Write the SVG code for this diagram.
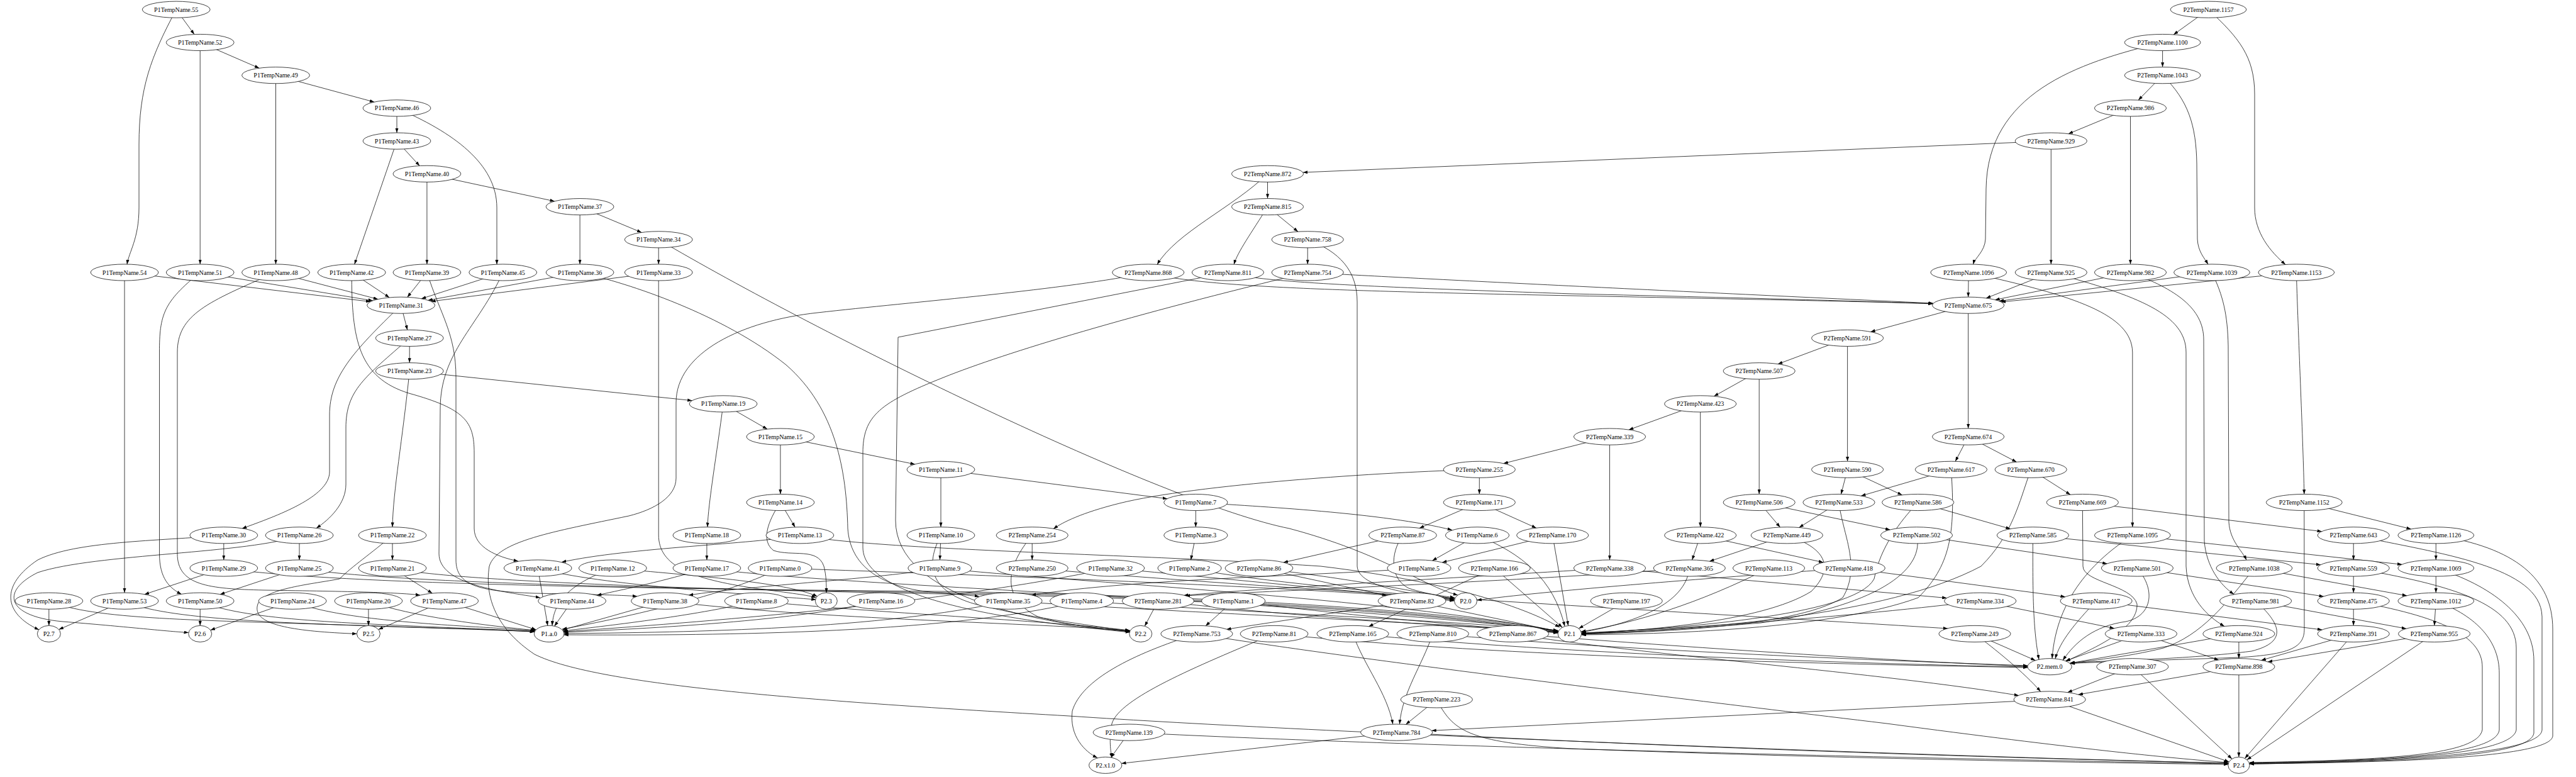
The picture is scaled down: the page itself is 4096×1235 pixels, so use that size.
<svg xmlns="http://www.w3.org/2000/svg" width="4096" height="1235" viewBox="0 0 4096 1235">
<defs>
<marker id="ah" viewBox="0 0 10 7" refX="10" refY="3.5" markerWidth="7.3" markerHeight="5.1" orient="auto" markerUnits="userSpaceOnUse"><path d="M0,0 L10,3.5 L0,7 z" fill="#000"/></marker>
<style>
.n ellipse{fill:#fff;stroke:#000;stroke-width:0.75}
.n text{font-family:"Liberation Serif","Times New Roman",serif;font-size:10.15px;text-anchor:middle;fill:#000}
</style>
</defs>
<rect width="4096" height="1235" fill="#fff"/>
<g id="connectors" fill="none" stroke="#000" stroke-width="0.75" marker-end="url(#ah)">
<path d="M280.2,15.2 L308.9,54.6"/>
<path d="M280.2,15.2 C240,90 221,140 221,230 L221,330 C221,380 205,400 202,420.2"/>
<path d="M318.2,67.5 L412.2,108.3"/>
<path d="M318.2,67.5 L318.2,419.9"/>
<path d="M438.5,119.7 L595.1,162.2"/>
<path d="M438.5,119.7 L438.5,419.9"/>
<path d="M631,171.9 L631,211"/>
<path d="M631,171.9 C720,210 790,260 790,330 L790,420.3"/>
<path d="M631,224.1 L667.2,263.6"/>
<path d="M631,224.1 L563.7,420"/>
<path d="M678.9,276.3 L881.8,319.9"/>
<path d="M678.9,276.3 L678.9,419.9"/>
<path d="M922.1,328.6 L1020.2,369.5"/>
<path d="M922.1,328.6 L922.1,419.9"/>
<path d="M1047.2,380.8 L1047.2,419.9"/>
<path d="M1047.2,380.8 C1300,530 1850,800 2050,840 C2200,880 2260,930 2318,946"/>
<path d="M198,433 L589.2,479.5"/>
<path d="M318.2,433 L592.9,477.9"/>
<path d="M438.5,433 L601,475.6"/>
<path d="M559.2,433 L619.2,472.9"/>
<path d="M678.9,433 L647.7,472.4"/>
<path d="M799.7,433 L670,474.8"/>
<path d="M922.1,433 L680.6,477.3"/>
<path d="M1047.2,433 L685.3,479.1"/>
<path d="M198,433 L198,942.1"/>
<path d="M318.2,433 C260,480 253.5,500 253.5,560 L253.5,880 C253.5,920 270,935 288.5,944.5"/>
<path d="M438.5,433 C330,480 282,500 282,560 L282,880 C282,930 330,936 420,938 C560,940 640,942 668,946"/>
<path d="M559.2,433 C559,540 570,600 650,625 C740,650 754,670 754,720 L754,840 C754,870 790,885 824,892"/>
<path d="M799.7,433 C760,520 700,560 700,650 L698,880 C698,930 800,940 859,950"/>
<path d="M678.9,433 C700,500 725,530 725,600 L725,890 C725,930 760,940 850,943 C950,945 990,946 1013,947.8"/>
<path d="M922.1,433 C1000,450 1150,500 1250,580 C1330,650 1346,750 1348,840 C1352,900 1400,930 1470,940 C1520,945 1545,946 1557,948.3"/>
<path d="M1047.2,433 L1047.2,850 C1047,900 1100,920 1200,935 C1260,943 1285,946 1297.5,950"/>
<path d="M637.6,485.2 L647.8,524.4"/>
<path d="M651.2,537.4 L651.2,576.6"/>
<path d="M651.2,589.7 L1100.5,636.7"/>
<path d="M1150,641.9 L1220,682.1"/>
<path d="M1240.9,694.1 L1454.8,737.9"/>
<path d="M1496,746.3 L1856,792.7"/>
<path d="M1901.3,798.5 L1901.3,837.7"/>
<path d="M1240.9,694.1 L1240.9,785.4"/>
<path d="M1150,641.9 C1140,720 1126,800 1125,837.8"/>
<path d="M1496,746.3 L1496,837.7"/>
<path d="M637.6,485.2 C560,560 524,600 524,660 L524,750 C524,790 440,820 385,840"/>
<path d="M651.2,537.4 C580,600 550,620 550,680 L550,770 C550,800 525,825 503,839.5"/>
<path d="M651.2,589.7 C640,700 625,780 624,837.7"/>
<path d="M355.8,850.8 L355.8,889.9"/>
<path d="M476,850.8 L476,889.9"/>
<path d="M624,850.8 L624,889.9"/>
<path d="M1123.9,850.8 L1123.9,889.9"/>
<path d="M1496,850.8 L1494.5,889.9"/>
<path d="M1901.3,850.8 L1893.5,890"/>
<path d="M1240.9,798.5 L1264.2,837.9"/>
<path d="M1901.3,798.5 C2000,805 2200,815 2309,842.5"/>
<path d="M2349,850.8 L2277.5,891.1"/>
<path d="M1240.9,798.5 C1220,830 1210,860 1230,875 C1260,885 1300,870 1310,900 C1314,915 1314,930 1314,942.1"/>
<path d="M1271.9,850.8 C1200,865 1000,870 893,893.5"/>
<path d="M1123.9,903 C1050,925 1000,935 949,946.2"/>
<path d="M1494.4,903 C1400,920 1200,930 1095,946"/>
<path d="M2256.5,903 C2100,915 1800,920 1640,946"/>
<path d="M355.8,903 L229.8,944.7"/>
<path d="M476,903 L350,944.7"/>
<path d="M624,903 L687.4,943"/>
<path d="M77.8,955.2 L77.8,994.3"/>
<path d="M198,955.2 L93.6,1000.6"/>
<path d="M355.8,850.8 C250,860 120,860 60,890 C0,930 5,975 62,1001"/>
<path d="M476,850.8 C400,880 150,880 60,910 C0,940 10,980 100,988 C200,996 260,1003 299.8,1005.5"/>
<path d="M624,850.8 C590,880 560,900 540,920 C500,928 420,935 410,960 C400,990 450,1003 567.4,1007.4"/>
<path d="M465.1,955.2 L334.7,1001.5"/>
<path d="M318.2,955.2 L318.2,994.3"/>
<path d="M585.9,955.2 L585.9,994.3"/>
<path d="M706.7,955.2 L601.7,1000.6"/>
<path d="M77.8,955.2 C150,985 300,985 600,995 C750,1000 820,1002 849.8,1004.5"/>
<path d="M198,955.2 C260,985 450,990 650,997 C780,1001 830,1003 850,1004"/>
<path d="M318.2,955.2 C380,985 550,990 700,997 C800,1001 835,1003 850.5,1003"/>
<path d="M465.1,955.2 C520,980 650,990 750,996 C820,1000 840,1002 851,1002"/>
<path d="M585.9,955.2 C650,980 780,995 851.5,1002"/>
<path d="M706.7,955.2 L852.5,1000.9"/>
<path d="M855.2,903 L870.9,994.4"/>
<path d="M974.3,903 C900,930 880,960 878,994.5"/>
<path d="M909.6,955.2 L881.6,995.2"/>
<path d="M1057.5,955.2 L894.2,1001.4"/>
<path d="M1202.8,955.2 C1100,980 960,995 895,1003"/>
<path d="M1400.8,955.2 C1250,990 1000,1000 896,1005"/>
<path d="M1603.2,955.2 C1400,1000 1100,1005 896.5,1007"/>
<path d="M1240.3,903 C1150,950 950,990 894,1000"/>
<path d="M1720.1,955.2 C1500,1010 1100,1010 896.5,1009"/>
<path d="M1765.8,903 C1500,960 1100,990 896,1004"/>
<path d="M974.3,903 C1100,915 1250,925 1299.5,948"/>
<path d="M855.2,903 C950,930 1200,945 1297.5,953"/>
<path d="M1496,850.8 C1470,900 1480,940 1550,960 C1650,985 1750,995 1796,1004"/>
<path d="M1202.8,955.2 C1400,975 1650,985 1796.5,1002"/>
<path d="M1057.5,955.2 C1300,985 1650,990 1797,1002.5"/>
<path d="M1841.4,955.2 L1820.2,995.2"/>
<path d="M2349,850.8 C2420,880 2470,920 2488,995.5"/>
<path d="M1720.1,955.2 C2000,975 2300,985 2478,1003"/>
<path d="M1603.2,955.2 C1900,975 2300,990 2477.5,1006"/>
<path d="M2586.2,955.2 L2510.3,999"/>
<path d="M2686.3,903 C2680,960 2600,990 2514.5,1005"/>
<path d="M2812.5,903 C2700,960 2600,990 2514,1004"/>
<path d="M2841.3,850.8 C2900,870 2920,900 2880,940 C2800,990 2600,1003 2514.5,1007"/>
<path d="M2924,798.5 C2930,850 2960,900 2930,950 C2850,1000 2600,1005 2514.6,1008"/>
<path d="M3102.4,746.3 C3110,850 3100,900 3050,950 C2900,1005 2600,1008 2514.6,1009"/>
<path d="M2079.2,380.8 C2130,400 2158,430 2158,480 L2158,900 C2160,935 2250,945 2312.6,952"/>
<path d="M1891.5,903 C2000,925 2200,940 2312.5,953"/>
<path d="M1240.3,903 C1600,915 2100,935 2312.6,954"/>
<path d="M1765.8,903 C1950,920 2150,940 2312.6,955"/>
<path d="M2940.3,903 C2700,920 2450,940 2348.5,954"/>
<path d="M355.8,903 C500,925 900,935 1500,940 C2100,950 2400,985 2477,1004"/>
<path d="M476,903 C600,925 1000,935 1500,942 C2100,952 2400,988 2477,1005"/>
<path d="M624,903 C700,920 1000,935 1500,944 C2100,954 2400,990 2477.3,1006"/>
<path d="M1123.9,903 C1300,930 2000,950 2477,1002"/>
<path d="M1271.9,850.8 C1400,875 1800,880 2100,900 C2350,930 2450,980 2480,997"/>
<path d="M1494.4,903 C1700,925 2200,950 2477.5,1003"/>
<path d="M3511.5,15.2 L3456.1,55"/>
<path d="M3511.5,15.2 C3560,60 3585,90 3585,150 L3585,330 C3585,370 3610,400 3634,420.5"/>
<path d="M3438.6,67.5 L3438.6,106.6"/>
<path d="M3438.6,67.5 C3300,100 3160,150 3158,300 L3157,380 C3156,400 3140,410 3137.5,420.1"/>
<path d="M3438.6,119.7 L3400,159.2"/>
<path d="M3438.6,119.7 C3480,160 3492,200 3493,260 L3494,380 C3495,400 3505,410 3511,420.1"/>
<path d="M3387.5,171.9 L3288.9,212.7"/>
<path d="M3387.5,171.9 L3387.5,419.9"/>
<path d="M3261.3,224.1 L2071.7,274"/>
<path d="M3261.3,224.1 L3261.3,419.9"/>
<path d="M2015.5,276.3 L2015.5,315.5"/>
<path d="M2015.5,276.3 C1960,330 1870,370 1840,420.4"/>
<path d="M2015.5,328.6 L2063.9,368.2"/>
<path d="M2015.5,328.6 C1990,370 1968,400 1962,420.3"/>
<path d="M2079.2,380.8 L2079.2,419.9"/>
<path d="M3130.2,433 L3129.6,472.1"/>
<path d="M3261.3,433 L3158.1,473.9"/>
<path d="M3387.5,433 L3172.4,476.5"/>
<path d="M3517,433 L3178.8,478.6"/>
<path d="M3651.3,433 L3181.9,480"/>
<path d="M1825.7,433 C1900,455 2100,462 2500,470 C2800,476 3000,480 3073.4,483"/>
<path d="M1952.4,433 C2000,448 2150,455 2500,467 C2800,474 3000,480 3073.5,482.5"/>
<path d="M2079.2,433 C2200,440 2600,460 3073.8,482"/>
<path d="M3130.2,433 C3300,470 3390,500 3390.8,560 L3390.8,837.7"/>
<path d="M3261.3,433 C3400,470 3476,500 3476,560 L3476,900 C3478,950 3510,980 3537,995.5"/>
<path d="M3387.5,433 C3460,460 3504,490 3504,540 L3505,860 C3508,900 3530,930 3552,944.5"/>
<path d="M3517,433 C3535,470 3542,500 3543,550 L3544,830 C3546,860 3565,875 3572,890.1"/>
<path d="M3651.3,433 C3655,550 3662,700 3663.8,785.4"/>
<path d="M1825.7,433 C1700,460 1450,480 1300,497 C1180,510 1075,560 1075,640 L1075,760 C1075,790 1040,810 1000,820 C880,845 790,860 778,900 C770,950 790,1000 850,1040 C950,1090 1300,1115 1700,1138 C2100,1165 3000,1200 3543,1213"/>
<path d="M1952.4,433 L1428,536 L1424,827 C1424,950 1650,990 1797,1004"/>
<path d="M2079.2,433 C1800,500 1600,560 1500,600 C1400,640 1372,660 1372,720 L1372,870 C1372,960 1650,990 1797,1005"/>
<path d="M3129.6,485.2 L3129.6,681"/>
<path d="M3129.6,485.2 L2974.3,527.4"/>
<path d="M2937.6,537.4 L2827.1,578.6"/>
<path d="M2937.6,537.4 L2937.6,733.2"/>
<path d="M2797.2,589.7 L2725.3,629.8"/>
<path d="M2797.2,589.7 L2797.2,785.4"/>
<path d="M2703.7,641.9 L2590,683.1"/>
<path d="M2703.7,641.9 L2703.7,837.7"/>
<path d="M2559.5,694.1 L2390.7,736.6"/>
<path d="M2559.5,694.1 L2559.5,889.9"/>
<path d="M2352.3,746.3 L2352.3,785.4"/>
<path d="M2352.3,746.3 C2200,750 1900,770 1780,800 C1720,815 1690,830 1675,840.5"/>
<path d="M2352.3,798.5 L2257,839.4"/>
<path d="M2352.3,798.5 L2442.8,839.2"/>
<path d="M3129.6,694.1 L3109.1,733.3"/>
<path d="M3129.6,694.1 L3206.4,734.3"/>
<path d="M2937.6,746.3 L2927.4,785.5"/>
<path d="M2937.6,746.3 L3024.5,786.8"/>
<path d="M3102.4,746.3 L2959.2,788.2"/>
<path d="M3229.2,746.3 L3292,786.2"/>
<path d="M2797.2,798.5 L2830.5,838"/>
<path d="M2797.2,798.5 L3005.3,842"/>
<path d="M2924,798.5 L2860.7,838.5"/>
<path d="M3049.7,798.5 L3196.7,840.6"/>
<path d="M3311.3,798.5 L3691.8,844.7"/>
<path d="M3663.8,798.5 L3833.7,840.9"/>
<path d="M3311.3,798.5 L3312,900 C3312,925 3390,930 3398,960 C3400,1000 3330,1030 3285,1051"/>
<path d="M3663.8,798.5 L3664,1000 C3664,1030 3640,1040 3560,1045 C3420,1050 3330,1052 3291.5,1054.8"/>
<path d="M3390.8,850.8 C3330,890 3270,950 3263,1046.7"/>
<path d="M3390.8,850.8 L3819.3,897.2"/>
<path d="M3232.4,850.8 C3232,950 3233,1000 3242,1048.3"/>
<path d="M3232.4,850.8 L3690.1,897.7"/>
<path d="M3742.2,850.8 L3742.2,889.9"/>
<path d="M3873.3,850.8 L3873.3,889.9"/>
<path d="M3742.2,850.8 C3880,880 4040,900 4042,980 L4042,1160 C4040,1200 3800,1210 3577,1214.5"/>
<path d="M3873.3,850.8 C4000,870 4059,920 4059,1000 L4059,1170 C4055,1205 3800,1212 3577,1214"/>
<path d="M3742.2,903 C3900,930 4001,960 4001,1030 L4001,1160 C3995,1200 3800,1210 3577,1213"/>
<path d="M3873.3,903 C3960,930 4029,980 4029,1050 L4029,1165 C4025,1205 3800,1211 3577,1213.5"/>
<path d="M3742.2,955.2 C3880,980 3947,1010 3947,1060 L3947,1160 C3940,1200 3800,1208 3577,1212"/>
<path d="M3873.3,955.2 C3940,980 3974,1020 3974,1070 L3974,1160 C3970,1200 3800,1209 3577,1212.5"/>
<path d="M3398.4,903 L3694.7,948"/>
<path d="M3398.4,903 C3430,940 3420,980 3380,988 C3330,995 3300,1020 3280,1049.5"/>
<path d="M3584.4,903 C3540,960 3500,1010 3440,1030 C3380,1045 3320,1050 3292,1054.5"/>
<path d="M3584.4,903 L3827,946.8"/>
<path d="M3742.2,903 L3742.2,942.1"/>
<path d="M3873.3,903 L3873.3,942.1"/>
<path d="M3148.7,955.2 L3361.8,998.7"/>
<path d="M3333.1,955.2 L3692.3,1001"/>
<path d="M3333.1,955.2 C3300,990 3275,1020 3268,1047.1"/>
<path d="M3586.6,955.2 L3826.1,999.2"/>
<path d="M3586.6,955.2 C3625,990 3640,1020 3580,1035 C3480,1048 3350,1050 3292,1053.5"/>
<path d="M3742.2,955.2 L3742.2,994.3"/>
<path d="M3873.3,955.2 L3870.8,994.3"/>
<path d="M3140,1007.4 L3236.4,1049.7"/>
<path d="M3140,1007.4 C3170,1030 3220,1070 3244.7,1099.3"/>
<path d="M3404.4,1007.4 L3284.3,1050.6"/>
<path d="M3404.4,1007.4 L3527.8,1048.9"/>
<path d="M3559.9,1007.4 L3290.9,1054.2"/>
<path d="M3559.9,1007.4 L3559.9,1046.6"/>
<path d="M3742.2,1007.4 L3595.5,1049.5"/>
<path d="M3870.6,1007.4 L3605.9,1052"/>
<path d="M3742.2,1007.4 L3569.4,1205.4"/>
<path d="M3870.6,1007.4 L3572.7,1207.7"/>
<path d="M3390.8,1059.7 L3287.6,1100.6"/>
<path d="M3390.8,1059.7 L3549,1206.2"/>
<path d="M3559.9,1059.7 L3304.6,1104"/>
<path d="M3559.9,1059.7 L3559.9,1203.2"/>
<path d="M3259.1,1111.9 L3544.3,1210.9"/>
<path d="M3259.1,1111.9 L2276.4,1161.3"/>
<path d="M2405.6,1007.4 C2600,1040 3000,1070 3210,1105.5"/>
<path d="M2405.6,1007.4 C2700,1030 3000,1050 3224,1059"/>
<path d="M2278.3,1007.4 C2260,1060 2230,1100 2225.4,1151.1"/>
<path d="M2278.3,1007.4 C2600,1035 3000,1050 3224,1058"/>
<path d="M2151,1007.4 C2170,1060 2205,1100 2214.8,1151.1"/>
<path d="M2151,1007.4 C2500,1040 2950,1055 3224,1060"/>
<path d="M2026,1007.4 C2400,1045 2900,1055 3224,1061"/>
<path d="M2026,1007.4 C1900,1060 1780,1110 1768,1150 C1763,1175 1766,1195 1768,1204.4"/>
<path d="M1902.9,1007.4 C1800,1040 1720,1080 1705,1130 C1700,1170 1725,1195 1745,1204.5"/>
<path d="M1902.9,1007.4 C2100,1040 2500,1090 3000,1150 C3300,1190 3450,1205 3543,1212"/>
<path d="M1795.2,1164.1 L1766.5,1204"/>
<path d="M1795.2,1164.1 C2200,1185 3000,1205 3543,1214"/>
<path d="M2220.6,1164.1 L1783.2,1213.4"/>
<path d="M2220.6,1164.1 C2700,1190 3200,1205 3543,1213"/>
<path d="M2284.3,1111.9 L2235.3,1151.5"/>
<path d="M2284.3,1111.9 C2310,1160 2330,1180 2500,1190 C2900,1205 3300,1212 3543,1215"/>
<path d="M2468.7,850.8 L2293.1,894"/>
<path d="M2468.7,850.8 L2493.6,994.4"/>
<path d="M2230.4,850.8 L2040.7,894"/>
<path d="M2230.4,850.8 C2210,880 2210,920 2240,935 C2270,945 2300,948 2313,950"/>
<path d="M2001.9,903 L2204.8,946.5"/>
<path d="M2001.9,903 C2150,920 2250,940 2312.5,952"/>
<path d="M2245.1,955.2 L1950.4,1000.2"/>
<path d="M2245.1,955.2 L2477.9,1003.7"/>
<path d="M1961.1,955.2 L1917,994.8"/>
<path d="M1961.1,955.2 C2200,985 2400,1000 2477.5,1005"/>
<path d="M1641.2,850.8 L1641.2,889.9"/>
<path d="M1641.2,850.8 C1600,900 1590,950 1650,980 C1700,995 1760,1000 1796,1003.5"/>
<path d="M1641.2,903 C2000,935 2800,980 3097,999"/>
<path d="M2559.5,903 L3095.5,950.5"/>
<path d="M2559.5,903 C2300,920 2000,935 1882,946.5"/>
<path d="M2686.3,903 C2400,925 2000,940 1885,947"/>
<path d="M1841.4,955.2 C2100,985 2400,1000 2477.5,1004.5"/>
<path d="M2703.7,850.8 L2690.6,890"/>
<path d="M2703.7,850.8 L2899.2,893.9"/>
<path d="M2841.3,850.8 L2718.2,892.2"/>
<path d="M2940.3,903 L3283.7,948.6"/>
<path d="M3047.5,850.8 L3350.5,895.9"/>
<path d="M2376.2,903 L2176.3,995.7"/>
<path d="M2376.2,903 L2484.2,997.2"/>
<path d="M3148.7,955.2 C2900,985 2650,1000 2514.5,1006"/>
<path d="M3047.5,850.8 C3060,900 3000,960 2800,990 C2650,1003 2560,1005 2514.6,1007.5"/>
<path d="M3049.7,798.5 C3020,830 2990,870 2980,920 C2950,980 2650,1000 2514.5,1006.5"/>
<path d="M3229.2,746.3 C3210,800 3200,850 3150,900 C3000,980 2700,1000 2514.6,1008"/>
</g>
<g id="nodes" class="n">
<g id="n-p55"><ellipse cx="280.2" cy="15.2" rx="53.9" ry="13.06"/><text x="280.2" y="18.7">P1TempName.55</text></g>
<g id="n-p52"><ellipse cx="318.2" cy="67.5" rx="53.9" ry="13.06"/><text x="318.2" y="71">P1TempName.52</text></g>
<g id="n-p49"><ellipse cx="438.5" cy="119.7" rx="53.9" ry="13.06"/><text x="438.5" y="123.2">P1TempName.49</text></g>
<g id="n-p46"><ellipse cx="631" cy="171.9" rx="53.9" ry="13.06"/><text x="631" y="175.4">P1TempName.46</text></g>
<g id="n-p43"><ellipse cx="631" cy="224.1" rx="53.9" ry="13.06"/><text x="631" y="227.6">P1TempName.43</text></g>
<g id="n-p40"><ellipse cx="678.9" cy="276.3" rx="53.9" ry="13.06"/><text x="678.9" y="279.8">P1TempName.40</text></g>
<g id="n-p37"><ellipse cx="922.1" cy="328.6" rx="53.9" ry="13.06"/><text x="922.1" y="332.1">P1TempName.37</text></g>
<g id="n-p34"><ellipse cx="1047.2" cy="380.8" rx="53.9" ry="13.06"/><text x="1047.2" y="384.3">P1TempName.34</text></g>
<g id="n-p54"><ellipse cx="198" cy="433" rx="53.9" ry="13.06"/><text x="198" y="436.5">P1TempName.54</text></g>
<g id="n-p51"><ellipse cx="318.2" cy="433" rx="53.9" ry="13.06"/><text x="318.2" y="436.5">P1TempName.51</text></g>
<g id="n-p48"><ellipse cx="438.5" cy="433" rx="53.9" ry="13.06"/><text x="438.5" y="436.5">P1TempName.48</text></g>
<g id="n-p42"><ellipse cx="559.2" cy="433" rx="53.9" ry="13.06"/><text x="559.2" y="436.5">P1TempName.42</text></g>
<g id="n-p39"><ellipse cx="678.9" cy="433" rx="53.9" ry="13.06"/><text x="678.9" y="436.5">P1TempName.39</text></g>
<g id="n-p45"><ellipse cx="799.7" cy="433" rx="53.9" ry="13.06"/><text x="799.7" y="436.5">P1TempName.45</text></g>
<g id="n-p36"><ellipse cx="922.1" cy="433" rx="53.9" ry="13.06"/><text x="922.1" y="436.5">P1TempName.36</text></g>
<g id="n-p33"><ellipse cx="1047.2" cy="433" rx="53.9" ry="13.06"/><text x="1047.2" y="436.5">P1TempName.33</text></g>
<g id="n-p31"><ellipse cx="637.6" cy="485.2" rx="53.9" ry="13.06"/><text x="637.6" y="488.7">P1TempName.31</text></g>
<g id="n-p27"><ellipse cx="651.2" cy="537.4" rx="53.9" ry="13.06"/><text x="651.2" y="540.9">P1TempName.27</text></g>
<g id="n-p23"><ellipse cx="651.2" cy="589.7" rx="53.9" ry="13.06"/><text x="651.2" y="593.2">P1TempName.23</text></g>
<g id="n-p19"><ellipse cx="1150" cy="641.9" rx="53.9" ry="13.06"/><text x="1150" y="645.4">P1TempName.19</text></g>
<g id="n-p15"><ellipse cx="1240.9" cy="694.1" rx="53.9" ry="13.06"/><text x="1240.9" y="697.6">P1TempName.15</text></g>
<g id="n-p11"><ellipse cx="1496" cy="746.3" rx="53.9" ry="13.06"/><text x="1496" y="749.8">P1TempName.11</text></g>
<g id="n-p14"><ellipse cx="1240.9" cy="798.5" rx="53.9" ry="13.06"/><text x="1240.9" y="802">P1TempName.14</text></g>
<g id="n-p7"><ellipse cx="1901.3" cy="798.5" rx="50.6" ry="13.06"/><text x="1901.3" y="802">P1TempName.7</text></g>
<g id="n-p30"><ellipse cx="355.8" cy="850.8" rx="53.9" ry="13.06"/><text x="355.8" y="854.3">P1TempName.30</text></g>
<g id="n-p26"><ellipse cx="476" cy="850.8" rx="53.9" ry="13.06"/><text x="476" y="854.3">P1TempName.26</text></g>
<g id="n-p22"><ellipse cx="624" cy="850.8" rx="53.9" ry="13.06"/><text x="624" y="854.3">P1TempName.22</text></g>
<g id="n-p18"><ellipse cx="1123.9" cy="850.8" rx="53.9" ry="13.06"/><text x="1123.9" y="854.3">P1TempName.18</text></g>
<g id="n-p13"><ellipse cx="1271.9" cy="850.8" rx="53.9" ry="13.06"/><text x="1271.9" y="854.3">P1TempName.13</text></g>
<g id="n-p10"><ellipse cx="1496" cy="850.8" rx="53.9" ry="13.06"/><text x="1496" y="854.3">P1TempName.10</text></g>
<g id="n-p3"><ellipse cx="1901.3" cy="850.8" rx="50.6" ry="13.06"/><text x="1901.3" y="854.3">P1TempName.3</text></g>
<g id="n-p6"><ellipse cx="2349" cy="850.8" rx="50.6" ry="13.06"/><text x="2349" y="854.3">P1TempName.6</text></g>
<g id="n-p29"><ellipse cx="355.8" cy="903" rx="53.9" ry="13.06"/><text x="355.8" y="906.5">P1TempName.29</text></g>
<g id="n-p25"><ellipse cx="476" cy="903" rx="53.9" ry="13.06"/><text x="476" y="906.5">P1TempName.25</text></g>
<g id="n-p21"><ellipse cx="624" cy="903" rx="53.9" ry="13.06"/><text x="624" y="906.5">P1TempName.21</text></g>
<g id="n-p41"><ellipse cx="855.2" cy="903" rx="53.9" ry="13.06"/><text x="855.2" y="906.5">P1TempName.41</text></g>
<g id="n-p12"><ellipse cx="974.3" cy="903" rx="53.9" ry="13.06"/><text x="974.3" y="906.5">P1TempName.12</text></g>
<g id="n-p17"><ellipse cx="1123.9" cy="903" rx="53.9" ry="13.06"/><text x="1123.9" y="906.5">P1TempName.17</text></g>
<g id="n-p0"><ellipse cx="1240.3" cy="903" rx="50.6" ry="13.06"/><text x="1240.3" y="906.5">P1TempName.0</text></g>
<g id="n-p9"><ellipse cx="1494.4" cy="903" rx="50.6" ry="13.06"/><text x="1494.4" y="906.5">P1TempName.9</text></g>
<g id="n-p32"><ellipse cx="1765.8" cy="903" rx="53.9" ry="13.06"/><text x="1765.8" y="906.5">P1TempName.32</text></g>
<g id="n-p2"><ellipse cx="1891.5" cy="903" rx="50.6" ry="13.06"/><text x="1891.5" y="906.5">P1TempName.2</text></g>
<g id="n-p5"><ellipse cx="2256.5" cy="903" rx="50.6" ry="13.06"/><text x="2256.5" y="906.5">P1TempName.5</text></g>
<g id="n-p28"><ellipse cx="77.8" cy="955.2" rx="53.9" ry="13.06"/><text x="77.8" y="958.7">P1TempName.28</text></g>
<g id="n-p53"><ellipse cx="198" cy="955.2" rx="53.9" ry="13.06"/><text x="198" y="958.7">P1TempName.53</text></g>
<g id="n-p50"><ellipse cx="318.2" cy="955.2" rx="53.9" ry="13.06"/><text x="318.2" y="958.7">P1TempName.50</text></g>
<g id="n-p24"><ellipse cx="465.1" cy="955.2" rx="53.9" ry="13.06"/><text x="465.1" y="958.7">P1TempName.24</text></g>
<g id="n-p20"><ellipse cx="585.9" cy="955.2" rx="53.9" ry="13.06"/><text x="585.9" y="958.7">P1TempName.20</text></g>
<g id="n-p47"><ellipse cx="706.7" cy="955.2" rx="53.9" ry="13.06"/><text x="706.7" y="958.7">P1TempName.47</text></g>
<g id="n-p44"><ellipse cx="909.6" cy="955.2" rx="53.9" ry="13.06"/><text x="909.6" y="958.7">P1TempName.44</text></g>
<g id="n-p38"><ellipse cx="1057.5" cy="955.2" rx="53.9" ry="13.06"/><text x="1057.5" y="958.7">P1TempName.38</text></g>
<g id="n-p8"><ellipse cx="1202.8" cy="955.2" rx="50.6" ry="13.06"/><text x="1202.8" y="958.7">P1TempName.8</text></g>
<g id="n-p16"><ellipse cx="1400.8" cy="955.2" rx="53.9" ry="13.06"/><text x="1400.8" y="958.7">P1TempName.16</text></g>
<g id="n-p35"><ellipse cx="1603.2" cy="955.2" rx="53.9" ry="13.06"/><text x="1603.2" y="958.7">P1TempName.35</text></g>
<g id="n-p4"><ellipse cx="1720.1" cy="955.2" rx="50.6" ry="13.06"/><text x="1720.1" y="958.7">P1TempName.4</text></g>
<g id="n-p1"><ellipse cx="1961.1" cy="955.2" rx="50.6" ry="13.06"/><text x="1961.1" y="958.7">P1TempName.1</text></g>
<g id="n-o27"><ellipse cx="77.8" cy="1007.4" rx="18.5" ry="13.06"/><text x="77.8" y="1010.9">P2.7</text></g>
<g id="n-o26"><ellipse cx="318.2" cy="1007.4" rx="18.5" ry="13.06"/><text x="318.2" y="1010.9">P2.6</text></g>
<g id="n-o25"><ellipse cx="585.9" cy="1007.4" rx="18.5" ry="13.06"/><text x="585.9" y="1010.9">P2.5</text></g>
<g id="n-oa"><ellipse cx="873.1" cy="1007.4" rx="23.7" ry="13.06"/><text x="873.1" y="1010.9">P1.a.0</text></g>
<g id="n-o23"><ellipse cx="1313.8" cy="955.2" rx="17.5" ry="13.06"/><text x="1313.8" y="958.7">P2.3</text></g>
<g id="n-o22"><ellipse cx="1813.7" cy="1007.4" rx="18" ry="13.06"/><text x="1813.7" y="1010.9">P2.2</text></g>
<g id="n-o20"><ellipse cx="2330.5" cy="955.2" rx="18" ry="13.06"/><text x="2330.5" y="958.7">P2.0</text></g>
<g id="n-o21"><ellipse cx="2495.9" cy="1007.4" rx="18.8" ry="13.06"/><text x="2495.9" y="1010.9">P2.1</text></g>
<g id="n-om"><ellipse cx="3259.1" cy="1059.7" rx="35.1" ry="13.06"/><text x="3259.1" y="1063.2">P2.mem.0</text></g>
<g id="n-ox"><ellipse cx="1757.7" cy="1216.3" rx="26.1" ry="13.06"/><text x="1757.7" y="1219.8">P2.x1.0</text></g>
<g id="n-o24"><ellipse cx="3559.9" cy="1216.3" rx="17.1" ry="13.06"/><text x="3559.9" y="1219.8">P2.4</text></g>
<g id="n-q1157"><ellipse cx="3511.5" cy="15.2" rx="60.4" ry="13.06"/><text x="3511.5" y="18.7">P2TempName.1157</text></g>
<g id="n-q1100"><ellipse cx="3438.6" cy="67.5" rx="60.4" ry="13.06"/><text x="3438.6" y="71">P2TempName.1100</text></g>
<g id="n-q1043"><ellipse cx="3438.6" cy="119.7" rx="60.4" ry="13.06"/><text x="3438.6" y="123.2">P2TempName.1043</text></g>
<g id="n-q986"><ellipse cx="3387.5" cy="171.9" rx="57.1" ry="13.06"/><text x="3387.5" y="175.4">P2TempName.986</text></g>
<g id="n-q929"><ellipse cx="3261.3" cy="224.1" rx="57.1" ry="13.06"/><text x="3261.3" y="227.6">P2TempName.929</text></g>
<g id="n-q872"><ellipse cx="2015.5" cy="276.3" rx="57.1" ry="13.06"/><text x="2015.5" y="279.8">P2TempName.872</text></g>
<g id="n-q815"><ellipse cx="2015.5" cy="328.6" rx="57.1" ry="13.06"/><text x="2015.5" y="332.1">P2TempName.815</text></g>
<g id="n-q758"><ellipse cx="2079.2" cy="380.8" rx="57.1" ry="13.06"/><text x="2079.2" y="384.3">P2TempName.758</text></g>
<g id="n-q868"><ellipse cx="1825.7" cy="433" rx="57.1" ry="13.06"/><text x="1825.7" y="436.5">P2TempName.868</text></g>
<g id="n-q811"><ellipse cx="1952.4" cy="433" rx="57.1" ry="13.06"/><text x="1952.4" y="436.5">P2TempName.811</text></g>
<g id="n-q754"><ellipse cx="2079.2" cy="433" rx="57.1" ry="13.06"/><text x="2079.2" y="436.5">P2TempName.754</text></g>
<g id="n-q1096"><ellipse cx="3130.2" cy="433" rx="60.4" ry="13.06"/><text x="3130.2" y="436.5">P2TempName.1096</text></g>
<g id="n-q925"><ellipse cx="3261.3" cy="433" rx="57.1" ry="13.06"/><text x="3261.3" y="436.5">P2TempName.925</text></g>
<g id="n-q982"><ellipse cx="3387.5" cy="433" rx="57.1" ry="13.06"/><text x="3387.5" y="436.5">P2TempName.982</text></g>
<g id="n-q1039"><ellipse cx="3517" cy="433" rx="60.4" ry="13.06"/><text x="3517" y="436.5">P2TempName.1039</text></g>
<g id="n-q1153"><ellipse cx="3651.3" cy="433" rx="60.4" ry="13.06"/><text x="3651.3" y="436.5">P2TempName.1153</text></g>
<g id="n-q675"><ellipse cx="3129.6" cy="485.2" rx="57.1" ry="13.06"/><text x="3129.6" y="488.7">P2TempName.675</text></g>
<g id="n-q591"><ellipse cx="2937.6" cy="537.4" rx="57.1" ry="13.06"/><text x="2937.6" y="540.9">P2TempName.591</text></g>
<g id="n-q507"><ellipse cx="2797.2" cy="589.7" rx="57.1" ry="13.06"/><text x="2797.2" y="593.2">P2TempName.507</text></g>
<g id="n-q423"><ellipse cx="2703.7" cy="641.9" rx="57.1" ry="13.06"/><text x="2703.7" y="645.4">P2TempName.423</text></g>
<g id="n-q339"><ellipse cx="2559.5" cy="694.1" rx="57.1" ry="13.06"/><text x="2559.5" y="697.6">P2TempName.339</text></g>
<g id="n-q674"><ellipse cx="3129.6" cy="694.1" rx="57.1" ry="13.06"/><text x="3129.6" y="697.6">P2TempName.674</text></g>
<g id="n-q255"><ellipse cx="2352.3" cy="746.3" rx="57.1" ry="13.06"/><text x="2352.3" y="749.8">P2TempName.255</text></g>
<g id="n-q590"><ellipse cx="2937.6" cy="746.3" rx="57.1" ry="13.06"/><text x="2937.6" y="749.8">P2TempName.590</text></g>
<g id="n-q617"><ellipse cx="3102.4" cy="746.3" rx="57.1" ry="13.06"/><text x="3102.4" y="749.8">P2TempName.617</text></g>
<g id="n-q670"><ellipse cx="3229.2" cy="746.3" rx="57.1" ry="13.06"/><text x="3229.2" y="749.8">P2TempName.670</text></g>
<g id="n-q171"><ellipse cx="2352.3" cy="798.5" rx="57.1" ry="13.06"/><text x="2352.3" y="802">P2TempName.171</text></g>
<g id="n-q506"><ellipse cx="2797.2" cy="798.5" rx="57.1" ry="13.06"/><text x="2797.2" y="802">P2TempName.506</text></g>
<g id="n-q533"><ellipse cx="2924" cy="798.5" rx="57.1" ry="13.06"/><text x="2924" y="802">P2TempName.533</text></g>
<g id="n-q586"><ellipse cx="3049.7" cy="798.5" rx="57.1" ry="13.06"/><text x="3049.7" y="802">P2TempName.586</text></g>
<g id="n-q669"><ellipse cx="3311.3" cy="798.5" rx="57.1" ry="13.06"/><text x="3311.3" y="802">P2TempName.669</text></g>
<g id="n-q1152"><ellipse cx="3663.8" cy="798.5" rx="60.4" ry="13.06"/><text x="3663.8" y="802">P2TempName.1152</text></g>
<g id="n-q254"><ellipse cx="1641.2" cy="850.8" rx="57.1" ry="13.06"/><text x="1641.2" y="854.3">P2TempName.254</text></g>
<g id="n-q87"><ellipse cx="2230.4" cy="850.8" rx="53.9" ry="13.06"/><text x="2230.4" y="854.3">P2TempName.87</text></g>
<g id="n-q170"><ellipse cx="2468.7" cy="850.8" rx="57.1" ry="13.06"/><text x="2468.7" y="854.3">P2TempName.170</text></g>
<g id="n-q422"><ellipse cx="2703.7" cy="850.8" rx="57.1" ry="13.06"/><text x="2703.7" y="854.3">P2TempName.422</text></g>
<g id="n-q449"><ellipse cx="2841.3" cy="850.8" rx="57.1" ry="13.06"/><text x="2841.3" y="854.3">P2TempName.449</text></g>
<g id="n-q502"><ellipse cx="3047.5" cy="850.8" rx="57.1" ry="13.06"/><text x="3047.5" y="854.3">P2TempName.502</text></g>
<g id="n-q585"><ellipse cx="3232.4" cy="850.8" rx="57.1" ry="13.06"/><text x="3232.4" y="854.3">P2TempName.585</text></g>
<g id="n-q1095"><ellipse cx="3390.8" cy="850.8" rx="60.4" ry="13.06"/><text x="3390.8" y="854.3">P2TempName.1095</text></g>
<g id="n-q643"><ellipse cx="3742.2" cy="850.8" rx="57.1" ry="13.06"/><text x="3742.2" y="854.3">P2TempName.643</text></g>
<g id="n-q1126"><ellipse cx="3873.3" cy="850.8" rx="60.4" ry="13.06"/><text x="3873.3" y="854.3">P2TempName.1126</text></g>
<g id="n-q250"><ellipse cx="1641.2" cy="903" rx="57.1" ry="13.06"/><text x="1641.2" y="906.5">P2TempName.250</text></g>
<g id="n-q86"><ellipse cx="2001.9" cy="903" rx="53.9" ry="13.06"/><text x="2001.9" y="906.5">P2TempName.86</text></g>
<g id="n-q166"><ellipse cx="2376.2" cy="903" rx="57.1" ry="13.06"/><text x="2376.2" y="906.5">P2TempName.166</text></g>
<g id="n-q338"><ellipse cx="2559.5" cy="903" rx="57.1" ry="13.06"/><text x="2559.5" y="906.5">P2TempName.338</text></g>
<g id="n-q365"><ellipse cx="2686.3" cy="903" rx="57.1" ry="13.06"/><text x="2686.3" y="906.5">P2TempName.365</text></g>
<g id="n-q113"><ellipse cx="2812.5" cy="903" rx="57.1" ry="13.06"/><text x="2812.5" y="906.5">P2TempName.113</text></g>
<g id="n-q418"><ellipse cx="2940.3" cy="903" rx="57.1" ry="13.06"/><text x="2940.3" y="906.5">P2TempName.418</text></g>
<g id="n-q501"><ellipse cx="3398.4" cy="903" rx="57.1" ry="13.06"/><text x="3398.4" y="906.5">P2TempName.501</text></g>
<g id="n-q1038"><ellipse cx="3584.4" cy="903" rx="60.4" ry="13.06"/><text x="3584.4" y="906.5">P2TempName.1038</text></g>
<g id="n-q559"><ellipse cx="3742.2" cy="903" rx="57.1" ry="13.06"/><text x="3742.2" y="906.5">P2TempName.559</text></g>
<g id="n-q1069"><ellipse cx="3873.3" cy="903" rx="60.4" ry="13.06"/><text x="3873.3" y="906.5">P2TempName.1069</text></g>
<g id="n-q281"><ellipse cx="1841.4" cy="955.2" rx="57.1" ry="13.06"/><text x="1841.4" y="958.7">P2TempName.281</text></g>
<g id="n-q82"><ellipse cx="2245.1" cy="955.2" rx="53.9" ry="13.06"/><text x="2245.1" y="958.7">P2TempName.82</text></g>
<g id="n-q197"><ellipse cx="2586.2" cy="955.2" rx="57.1" ry="13.06"/><text x="2586.2" y="958.7">P2TempName.197</text></g>
<g id="n-q334"><ellipse cx="3148.7" cy="955.2" rx="57.1" ry="13.06"/><text x="3148.7" y="958.7">P2TempName.334</text></g>
<g id="n-q417"><ellipse cx="3333.1" cy="955.2" rx="57.1" ry="13.06"/><text x="3333.1" y="958.7">P2TempName.417</text></g>
<g id="n-q981"><ellipse cx="3586.6" cy="955.2" rx="57.1" ry="13.06"/><text x="3586.6" y="958.7">P2TempName.981</text></g>
<g id="n-q475"><ellipse cx="3742.2" cy="955.2" rx="57.1" ry="13.06"/><text x="3742.2" y="958.7">P2TempName.475</text></g>
<g id="n-q1012"><ellipse cx="3873.3" cy="955.2" rx="60.4" ry="13.06"/><text x="3873.3" y="958.7">P2TempName.1012</text></g>
<g id="n-q753"><ellipse cx="1902.9" cy="1007.4" rx="57.1" ry="13.06"/><text x="1902.9" y="1010.9">P2TempName.753</text></g>
<g id="n-q81"><ellipse cx="2026" cy="1007.4" rx="53.9" ry="13.06"/><text x="2026" y="1010.9">P2TempName.81</text></g>
<g id="n-q165"><ellipse cx="2151" cy="1007.4" rx="57.1" ry="13.06"/><text x="2151" y="1010.9">P2TempName.165</text></g>
<g id="n-q810"><ellipse cx="2278.3" cy="1007.4" rx="57.1" ry="13.06"/><text x="2278.3" y="1010.9">P2TempName.810</text></g>
<g id="n-q867"><ellipse cx="2405.6" cy="1007.4" rx="57.1" ry="13.06"/><text x="2405.6" y="1010.9">P2TempName.867</text></g>
<g id="n-q249"><ellipse cx="3140" cy="1007.4" rx="57.1" ry="13.06"/><text x="3140" y="1010.9">P2TempName.249</text></g>
<g id="n-q333"><ellipse cx="3404.4" cy="1007.4" rx="57.1" ry="13.06"/><text x="3404.4" y="1010.9">P2TempName.333</text></g>
<g id="n-q924"><ellipse cx="3559.9" cy="1007.4" rx="57.1" ry="13.06"/><text x="3559.9" y="1010.9">P2TempName.924</text></g>
<g id="n-q391"><ellipse cx="3742.2" cy="1007.4" rx="57.1" ry="13.06"/><text x="3742.2" y="1010.9">P2TempName.391</text></g>
<g id="n-q955"><ellipse cx="3870.6" cy="1007.4" rx="57.1" ry="13.06"/><text x="3870.6" y="1010.9">P2TempName.955</text></g>
<g id="n-q307"><ellipse cx="3390.8" cy="1059.7" rx="57.1" ry="13.06"/><text x="3390.8" y="1063.2">P2TempName.307</text></g>
<g id="n-q898"><ellipse cx="3559.9" cy="1059.7" rx="57.1" ry="13.06"/><text x="3559.9" y="1063.2">P2TempName.898</text></g>
<g id="n-q223"><ellipse cx="2284.3" cy="1111.9" rx="57.1" ry="13.06"/><text x="2284.3" y="1115.4">P2TempName.223</text></g>
<g id="n-q841"><ellipse cx="3259.1" cy="1111.9" rx="57.1" ry="13.06"/><text x="3259.1" y="1115.4">P2TempName.841</text></g>
<g id="n-q139"><ellipse cx="1795.2" cy="1164.1" rx="57.1" ry="13.06"/><text x="1795.2" y="1167.6">P2TempName.139</text></g>
<g id="n-q784"><ellipse cx="2220.6" cy="1164.1" rx="57.1" ry="13.06"/><text x="2220.6" y="1167.6">P2TempName.784</text></g>
</g>
</svg>
